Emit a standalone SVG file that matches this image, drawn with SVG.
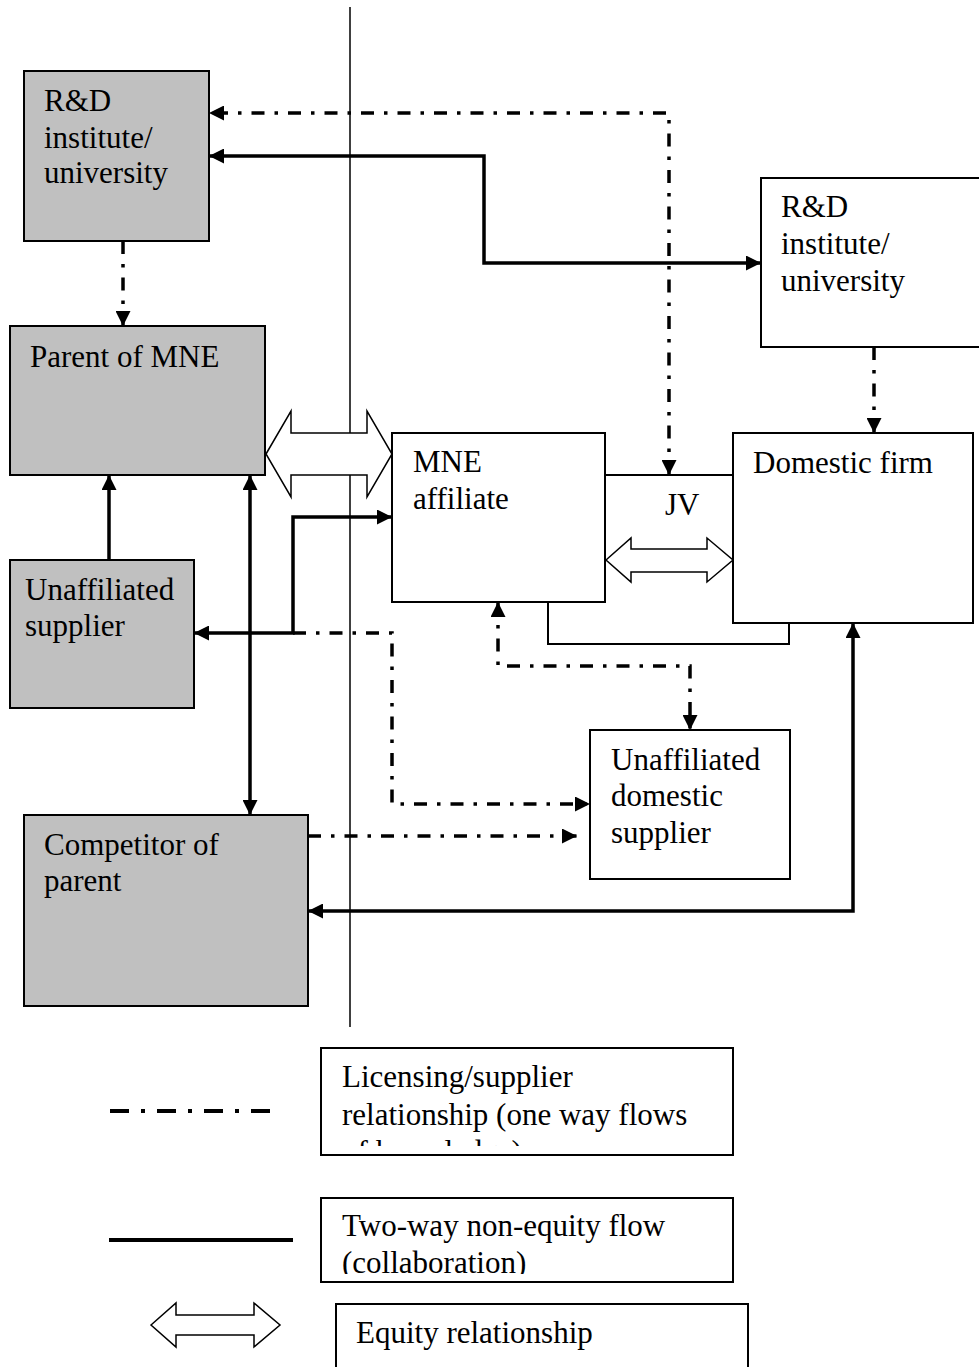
<svg xmlns="http://www.w3.org/2000/svg" width="979" height="1367" viewBox="0 0 979 1367">
<style>
text{font-family:"Liberation Serif","Times New Roman",serif;font-size:31px;fill:#000}
.gray{fill:#c0c0c0;stroke:#000;stroke-width:2}
.white{fill:#fff;stroke:#000;stroke-width:2}
.solid{fill:none;stroke:#000;stroke-width:3.5}
.dd{fill:none;stroke:#000;stroke-width:3.5;stroke-dasharray:13 10 3.5 10}
.thin{fill:none;stroke:#000;stroke-width:2}
.eq{fill:#fff;stroke:#000;stroke-width:1.5}
</style>
<defs>
<marker id="ah" viewBox="0 0 15 15" refX="15" refY="7.5" markerWidth="15" markerHeight="15" markerUnits="userSpaceOnUse" orient="auto-start-reverse">
<path d="M0,0 L15,7.5 L0,15 z" fill="#000"/>
</marker>
<clipPath id="c1"><rect x="321" y="1048" width="412" height="98"/></clipPath>
<clipPath id="c2"><rect x="321" y="1198" width="412" height="76"/></clipPath>
</defs>

<line id="divider" x1="350" y1="7" x2="350" y2="1027" stroke="#000" stroke-width="1.5"/>

<g id="rd-left">
<rect class="gray" x="24" y="71" width="185" height="170"/>
<text x="44" y="111">R&amp;D</text>
<text x="44" y="148">institute/</text>
<text x="44" y="183">university</text>
</g>

<g id="parent">
<rect class="gray" x="10" y="326" width="255" height="149"/>
<text x="30" y="367">Parent of MNE</text>
</g>

<g id="unaff-supplier">
<rect class="gray" x="10" y="560" width="184" height="148"/>
<text x="25" y="600">Unaffiliated</text>
<text x="25" y="636">supplier</text>
</g>

<g id="competitor">
<rect class="gray" x="24" y="815" width="284" height="191"/>
<text x="44" y="855">Competitor of</text>
<text x="44" y="891">parent</text>
</g>

<g id="rd-right">
<rect class="white" x="761" y="178" width="230" height="169"/>
<text x="781" y="217">R&amp;D</text>
<text x="781" y="254">institute/</text>
<text x="781" y="291">university</text>
</g>

<g id="mne-affiliate">
<rect class="white" x="392" y="433" width="213" height="169"/>
<text x="413" y="472">MNE</text>
<text x="413" y="509">affiliate</text>
</g>

<g id="domestic-firm">
<rect class="white" x="733" y="433" width="240" height="190"/>
<text x="753" y="473">Domestic firm</text>
</g>

<g id="jv">
<path class="thin" d="M605,475 H733"/>
<path class="thin" d="M548,602 V644 H789 V623"/>
<text x="665" y="515">JV</text>
</g>

<g id="unaff-domestic-supplier">
<rect class="white" x="590" y="730" width="200" height="149"/>
<text x="611" y="770">Unaffiliated</text>
<text x="611" y="806">domestic</text>
<text x="611" y="843">supplier</text>
</g>

<g id="connectors">
<path class="dd" d="M669,475 V113 H209" marker-start="url(#ah)" marker-end="url(#ah)"/>
<path class="solid" d="M761,263 H484 V156 H209" marker-start="url(#ah)" marker-end="url(#ah)"/>
<path class="dd" d="M123,241 V326" marker-end="url(#ah)"/>
<path class="dd" d="M874,347 V433" marker-end="url(#ah)"/>
<path class="solid" d="M109,560 V475" marker-end="url(#ah)"/>
<path class="solid" d="M250,475 V815" marker-start="url(#ah)" marker-end="url(#ah)"/>
<path class="dd" d="M293,633 H392 V804 H590" marker-end="url(#ah)"/>
<path class="solid" d="M194,633 H293 V517 H392" marker-start="url(#ah)" marker-end="url(#ah)"/>
<path class="dd" d="M498,602 V666 H690 V730" marker-start="url(#ah)" marker-end="url(#ah)"/>
<path class="dd" d="M308,836 H577" marker-end="url(#ah)"/>
<path class="solid" d="M308,911 H853 V623" marker-start="url(#ah)" marker-end="url(#ah)"/>
<polygon class="eq" points="266,454 291,411 291,433 367,433 367,411 392,454 367,497 367,475 291,475 291,497"/>
<polygon class="eq" points="606,560 631,538 631,549 707,549 707,538 733,560 707,582 707,572 631,572 631,582"/>
</g>

<g id="legend">
<path d="M110,1111 H272" fill="none" stroke="#000" stroke-width="4" stroke-dasharray="19 12 4 12"/>
<rect class="white" x="321" y="1048" width="412" height="107"/>
<g clip-path="url(#c1)">
<text x="342" y="1087">Licensing/supplier</text>
<text x="342" y="1125">relationship (one way flows</text>
<text x="342" y="1162">of knowledge)</text>
</g>
<path d="M109,1240 H293" stroke="#000" stroke-width="4"/>
<rect class="white" x="321" y="1198" width="412" height="84"/>
<g clip-path="url(#c2)">
<text x="342" y="1236">Two-way non-equity flow</text>
<text x="342" y="1273">(collaboration)</text>
</g>
<polygon class="eq" points="151,1325 176,1303 176,1315 254,1315 254,1303 280,1325 254,1347 254,1335 176,1335 176,1347"/>
<rect class="white" x="336" y="1304" width="412" height="80"/>
<text x="356" y="1343">Equity relationship</text>
</g>
</svg>
